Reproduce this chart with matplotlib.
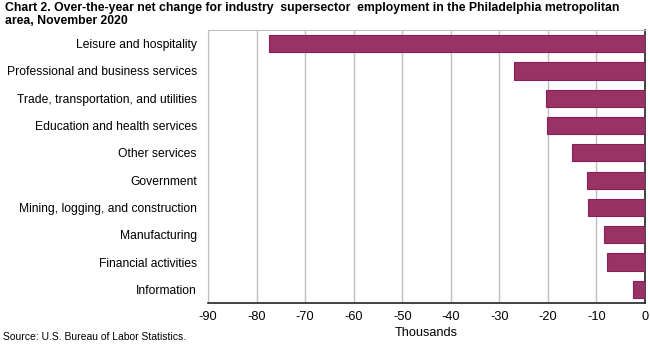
import matplotlib.pyplot as plt
import numpy as np

plt.rcParams['font.family'] = ['Liberation Sans', 'DejaVu Sans']

categories = ['Leisure and hospitality', 'Professional and business services',
              'Trade, transportation, and utilities', 'Education and health services',
              'Other services', 'Government', 'Mining, logging, and construction',
              'Manufacturing', 'Financial activities', 'Information']
values = [-77.5, -27.0, -20.4, -20.1, -15.0, -11.9, -11.7, -8.4, -7.9, -2.5]
xticks = [-90, -80, -70, -60, -50, -40, -30, -20, -10, 0]

fig = plt.figure(figsize=(6.5, 3.44), dpi=100)
ax = fig.add_axes([208/650, 1-303/344, 437/650, 273/344])

y = np.arange(len(categories))
ax.barh(y, values, height=0.63, color='#993366', edgecolor='#8a1f58', linewidth=0.8, zorder=3)
ax.set_ylim(len(categories)-0.5, -0.5)
ax.set_xlim(-90, 0)
ax.set_yticks(y)
ax.set_yticklabels(categories, fontsize=8.7)
ax.set_xticks(xticks)
ax.set_xticklabels([str(t) for t in xticks], fontsize=9.2)
ax.tick_params(axis='y', length=0, pad=8)
ax.tick_params(axis='x', length=0, pad=6)
ax.xaxis.grid(True, color='#c0c0c0', linewidth=1.0, zorder=0)
ax.spines['top'].set_color('#c0c0c0')
ax.spines['left'].set_color('#c0c0c0')
ax.spines['right'].set_color('#222222')
ax.spines['bottom'].set_color('#222222')
ax.spines['right'].set_linewidth(1.2)
ax.spines['bottom'].set_linewidth(1.2)

fig.text(426/650, 1-333/344, 'Thousands', fontsize=9.2, va='center', ha='center')
fig.text(5/650, 1-2/344, 'Chart 2. Over-the-year net change for industry  supersector  employment in the Philadelphia metropolitan\narea, November 2020',
         fontsize=8.8, fontweight='bold', va='top', ha='left', linespacing=1.1)
fig.text(3/650, 1-342/344, 'Source: U.S. Bureau of Labor Statistics.', fontsize=7.5, va='bottom', ha='left')

plt.savefig('out.png', dpi=100)
